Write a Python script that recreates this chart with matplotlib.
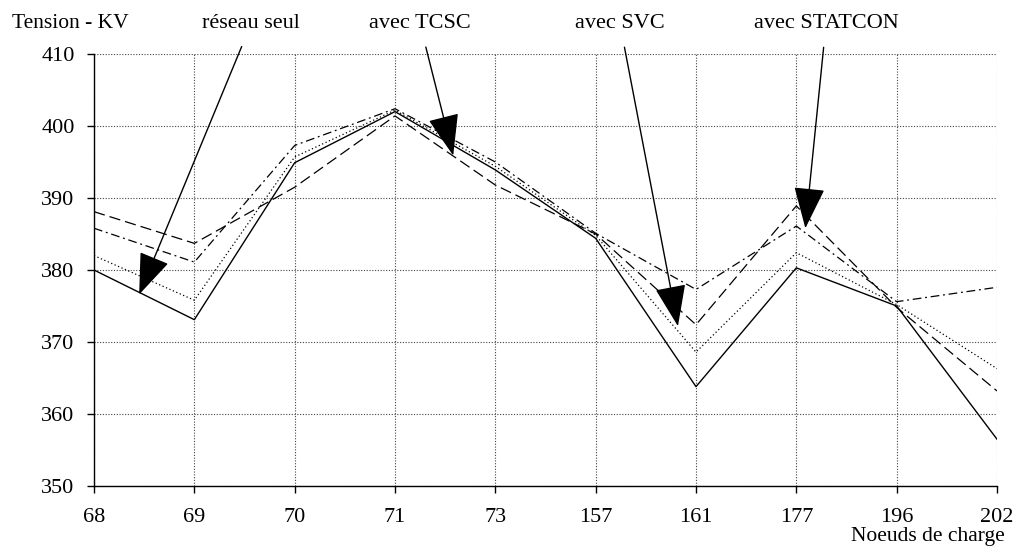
import matplotlib
matplotlib.use("Agg")
import matplotlib.pyplot as plt
import numpy as np

# ---- data ----
categories = ['68', '69', '70', '71', '73', '157', '161', '177', '196', '202']
reseau_seul = [380.0, 373.1, 394.9, 402.0, 393.9, 384.4, 363.8, 380.3, 375.0, 356.5]
avec_tcsc = [388.1, 383.7, 391.5, 401.4, 391.8, 385.0, 372.4, 388.9, 374.8, 363.2]
avec_svc = [382.0, 375.8, 395.7, 402.2, 394.4, 384.8, 368.6, 382.4, 375.2, 366.3]
avec_statcon = [385.8, 381.1, 397.3, 402.4, 395.0, 385.1, 377.3, 386.1, 375.6, 377.6]
yticks = [350, 360, 370, 380, 390, 400, 410]

plt.rcParams['font.family'] = ['Liberation Serif', 'DejaVu Serif']

fig = plt.figure(figsize=(10.15, 5.53), dpi=100)
ax = fig.add_axes([94/1015, 1-486/553, (997-94)/1015, (486-54)/553])

x = np.arange(len(categories))
lc = 'black'
ax.plot(x, reseau_seul, color=lc, lw=1.0, ls='-')
ax.plot(x, avec_tcsc, color=lc, lw=0.9, ls=(0, (9, 4)))
ax.plot(x, avec_svc, color=lc, lw=0.9, ls=(0, (1, 2)))
ax.plot(x, avec_statcon, color=lc, lw=0.9, ls=(0, (7, 3, 1.5, 3)))

ax.set_xlim(0, len(categories) - 1)
ax.set_ylim(350, 410)
ax.set_xticks(x)
ax.set_xticklabels(categories)
ax.set_yticks(yticks)
ax.set_yticklabels([str(v) for v in yticks])

ax.grid(True, color='#444444', ls=(0, (1, 1.5)), lw=0.8)
ax.set_axisbelow(True)
for s in ['top', 'right']:
    ax.spines[s].set_visible(False)
for s in ['left', 'bottom']:
    ax.spines[s].set_linewidth(1.0)
ax.tick_params(axis='both', labelsize=16, length=5, width=1.0, colors='black')
ax.tick_params(axis='y', pad=9)
ax.tick_params(axis='x', pad=11)

fig.text(12/1015, 1-24/553, 'Tension - KV', fontsize=15.5, ha='left', va='center')
fig.text(1005/1015, 1-537/553, 'Noeuds de charge', fontsize=15.5, ha='right', va='center')

# annotations (text in figure pixels, arrow tips in data coords)
def px(xp, yp):
    return (xp/1015, 1-yp/553)

annots = [
    ('réseau seul', (251, 24), (0.45, 376.6)),
    ('avec TCSC', (420, 24), (3.58, 395.9)),
    ('avec SVC', (620, 24), (5.82, 372.2)),
    ('avec STATCON', (826, 24), (7.09, 385.8)),
]
for txt, tpos, tip in annots:
    ax.annotate(txt, xy=tip, xycoords='data', xytext=px(*tpos), textcoords='figure fraction',
                ha='center', va='center', fontsize=16, annotation_clip=False,
                arrowprops=dict(arrowstyle='-|>,head_length=1.2,head_width=0.45', color='black',
                                lw=1.0, shrinkA=8, shrinkB=0, mutation_scale=22))

fig.savefig('out.png', dpi=100)
